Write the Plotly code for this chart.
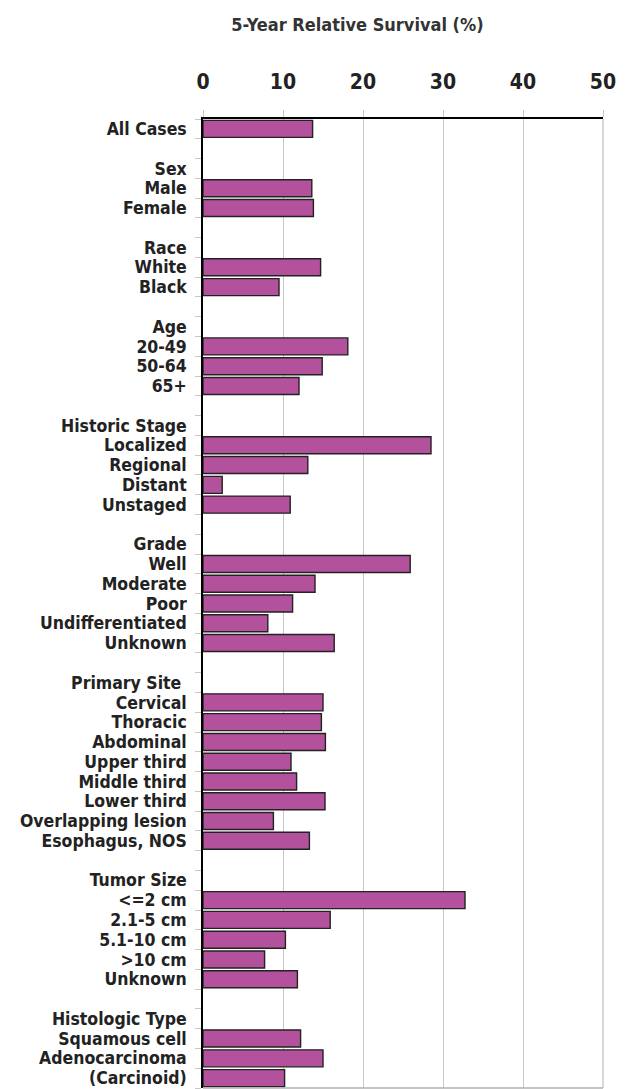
import plotly.graph_objects as go

categories = [
    "All Cases", "\u200b",
    "Sex", "Male", "Female", "\u200b\u200b",
    "Race", "White", "Black", "\u200b\u200b\u200b",
    "Age", "20-49", "50-64", "65+", "\u200b\u200b\u200b\u200b",
    "Historic Stage", "Localized", "Regional", "Distant", "Unstaged", "\u200b\u200b\u200b\u200b\u200b",
    "Grade", "Well", "Moderate", "Poor", "Undifferentiated", "Unknown", "\u200b\u200b\u200b\u200b\u200b\u200b",
    "Primary Site\u00a0", "Cervical", "Thoracic", "Abdominal", "Upper third", "Middle third",
    "Lower third", "Overlapping lesion", "Esophagus, NOS", "\u200b\u200b\u200b\u200b\u200b\u200b\u200b",
    "Tumor Size", "<=2 cm", "2.1-5 cm", "5.1-10 cm", ">10 cm", "Unknown\u200b", "\u200b\u200b\u200b\u200b\u200b\u200b\u200b\u200b",
    "Histologic Type", "Squamous cell", "Adenocarcinoma", "(Carcinoid)",
]

survival = [
    13.7, None,
    None, 13.6, 13.8, None,
    None, 14.7, 9.5, None,
    None, 18.1, 14.9, 12.0, None,
    None, 28.5, 13.1, 2.4, 10.9, None,
    None, 25.9, 14.0, 11.2, 8.1, 16.4, None,
    None, 15.0, 14.8, 15.3, 11.0, 11.7, 15.25, 8.8, 13.3, None,
    None, 32.75, 15.9, 10.3, 7.7, 11.8, None,
    None, 12.2, 15.0, 10.2,
]

x_ticks = [0, 10, 20, 30, 40, 50]
title_text = "5-Year Relative Survival (%)"

FONT = "DejaVu Sans Condensed, Liberation Sans Narrow, Arial Narrow, sans-serif"

fig = go.Figure(
    go.Bar(
        x=survival,
        y=categories,
        orientation="h",
        marker=dict(color="#b4519d", line=dict(color="#222222", width=1.4)),
        hoverinfo="x+y",
    )
)

fig.update_layout(
    width=626,
    height=1089,
    margin=dict(l=203, r=23, t=119, b=1),
    paper_bgcolor="white",
    plot_bgcolor="white",
    bargap=0.14,
    showlegend=False,
    title=dict(
        text="<b>" + title_text + "</b>",
        x=357.5 / 626,
        xanchor="center",
        xref="container",
        y=1 - 25 / 1089,
        yanchor="middle",
        yref="container",
        font=dict(family=FONT, size=18, color="#333333"),
    ),
    xaxis=dict(
        side="top",
        range=[0, 50],
        tickvals=x_ticks,
        ticktext=["<b>%d</b>" % v for v in x_ticks],
        showgrid=True,
        gridcolor="#c8c8c8",
        gridwidth=1,
        showline=True,
        linecolor="black",
        linewidth=1.5,
        ticks="outside",
        ticklen=7,
        tickcolor="#c8c8c8",
        tickfont=dict(family=FONT, size=21, color="#222222"),
        ticklabelstandoff=13,
        zeroline=False,
        automargin=False,
        fixedrange=True,
    ),
    yaxis=dict(
        type="category",
        categoryorder="array",
        categoryarray=categories,
        autorange="reversed",
        tickmode="array",
        tickvals=categories,
        ticktext=["<b>" + c + "</b>" for c in categories],
        tickson="boundaries",
        ticks="outside",
        ticklen=6,
        tickcolor="#c8c8c8",
        showgrid=False,
        showline=True,
        linecolor="black",
        linewidth=1.5,
        tickfont=dict(family=FONT, size=17.5, color="#222222"),
        ticklabelstandoff=11,
        automargin=False,
        fixedrange=True,
    ),
    shapes=[
        dict(type="line", xref="paper", yref="paper", x0=0, x1=1, y0=0, y1=0,
             line=dict(color="#b0b0b0", width=1.5)),
        dict(type="line", xref="paper", yref="paper", x0=1, x1=1, y0=0, y1=1,
             line=dict(color="#b0b0b0", width=1)),
    ],
)

fig.write_html(
    "out.html",
    config={"displayModeBar": False},
    post_script="document.body.style.margin='0';document.body.style.padding='0';",
)
